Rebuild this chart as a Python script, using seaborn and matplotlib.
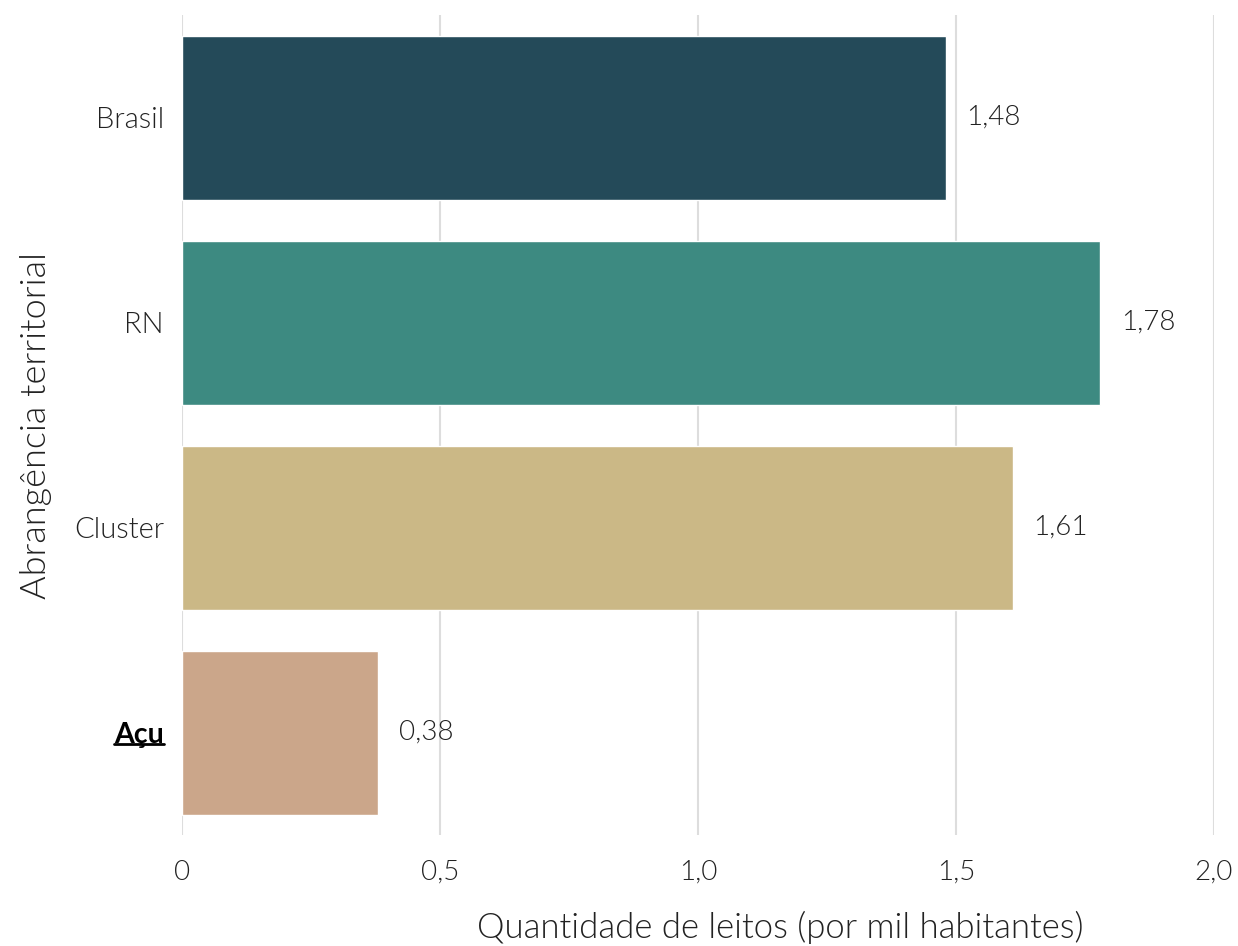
import pandas as pd
import matplotlib.pyplot as plt
import seaborn as sns
from matplotlib.lines import Line2D

# data
regioes = ['Brasil', 'RN', 'Cluster', 'Açu']
leitos = [1.48, 1.78, 1.61, 0.38]
cores = ['#244a59', '#3d8a81', '#cbb886', '#cba68a']
xticks = [0, 0.5, 1.0, 1.5, 2.0]
xtick_labels = ['0', '0,5', '1,0', '1,5', '2,0']

df = pd.DataFrame({'regiao': regioes, 'leitos': leitos})

sns.set_style('white')
plt.rcParams['font.family'] = ['Lato', 'DejaVu Sans']
LIGHT = 300
TXT = '#222222'

fig = plt.figure(figsize=(12.38, 9.46), dpi=100)
ax = fig.add_axes([0.147, 0.1173, 0.8336, 0.8668])

sns.barplot(data=df, y='regiao', x='leitos', hue='regiao', palette=cores,
            orient='h', width=0.8, saturation=1, legend=False, ax=ax, zorder=3)

ax.set_xlim(0, 2.0)
ax.set_ylim(3.5, -0.5)
ax.set_xticks(xticks)
ax.set_xticklabels(xtick_labels, fontsize=20, fontweight=LIGHT, color=TXT)
ax.tick_params(axis='x', length=0, pad=18)
ax.tick_params(axis='y', length=0, pad=13)
for lab in ax.get_yticklabels():
    lab.set_fontsize(21)
    lab.set_fontweight(LIGHT)
    lab.set_color(TXT)
    if lab.get_text() == 'Açu':
        lab.set_fontsize(20.5)
        lab.set_fontweight('bold')
        lab.set_color('black')

ax.grid(axis='x', color='#dddddd', linewidth=1.5, zorder=0)
ax.grid(axis='y', visible=False)
sns.despine(ax=ax, left=True, bottom=True)

for i, v in enumerate(leitos):
    ax.annotate(f'{v:.2f}'.replace('.', ','), (v, i), xytext=(15, 0),
                textcoords='offset points', va='center', ha='left',
                fontsize=20, fontweight=LIGHT, color=TXT)

ax.set_xlabel('Quantidade de leitos (por mil habitantes)', fontsize=25,
              fontweight=LIGHT, color=TXT)
ax.xaxis.set_label_coords(0.58, -0.093)
ax.set_ylabel('Abrangência territorial', fontsize=26, fontweight=LIGHT,
              color=TXT, labelpad=16)

# underline the highlighted label
fig.canvas.draw()
renderer = fig.canvas.get_renderer()
for lab in ax.get_yticklabels():
    if lab.get_text() == 'Açu':
        bb = lab.get_window_extent(renderer)
        x0, x1 = bb.x0 / fig.bbox.width, bb.x1 / fig.bbox.width
        y = (bb.y0 + 4) / fig.bbox.height
        fig.add_artist(Line2D([x0, x1], [y, y], color='black', linewidth=2,
                              transform=fig.transFigure))

fig.savefig('out.png', dpi=100)
